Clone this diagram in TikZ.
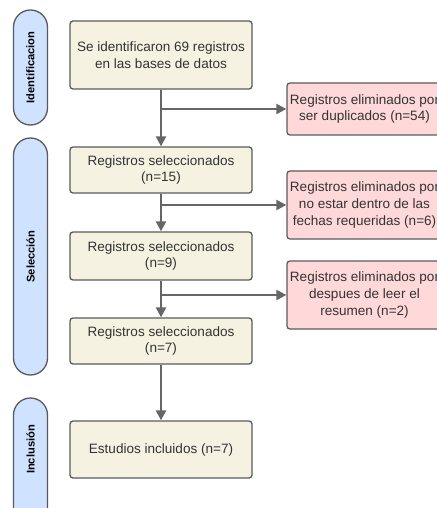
\documentclass[tikz,border=0pt]{standalone}
\usepackage{fontspec}
\setmainfont{Liberation Sans}
\usetikzlibrary{arrows.meta,calc}
\definecolor{boxfill}{HTML}{F5F2E2}
\definecolor{pinkfill}{HTML}{FFD9D9}
\definecolor{bluefill}{HTML}{CFE2FF}
\definecolor{edge}{HTML}{5A5A5A}
\definecolor{txt}{HTML}{333333}
\definecolor{arr}{HTML}{666666}
\begin{document}
\begin{tikzpicture}[x=1bp,y=-1bp,
  stepbox/.style={draw=edge,line width=1.3bp,fill=boxfill,rounded corners=3bp,
    minimum width=182bp,align=center,text=txt,font=\fontsize{13.6}{17}\selectfont,inner sep=0pt},
  pinkbox/.style={draw=edge,line width=1.3bp,fill=pinkfill,rounded corners=3bp,
    minimum width=155bp,align=center,text=txt,font=\fontsize{13.6}{17}\selectfont,inner sep=0pt},
  pill/.style={draw=edge,line width=1.3bp,fill=bluefill,rounded corners=17bp,
    minimum width=34bp,inner sep=0pt},
  pilltext/.style={rotate=90,font=\bfseries\fontsize{11.2}{13}\selectfont,text=black},
  flow/.style={draw=arr,line width=2.3bp,-{Triangle[length=10bp,width=10bp]}}]
\useasboundingbox (0,0) rectangle (437,508);
\clip (0,0) rectangle (437,508);
% phase pills
\node[pill,minimum height=115bp] (p1) at (30.5,67.5) {};
\node[pilltext] (t1) at (p1.center) {Identificacion};
\node[pill,minimum height=237bp] (p2) at (30.5,256.5) {};
\node[pilltext] (t2) at (p2.center) {Selección};
\node[pill,minimum height=140bp] (p3) at (30.5,468) {};
\node[pilltext] (t3) at (30.5,449.5) {Inclusión};
% main boxes
\node[stepbox,minimum height=68bp] (b1) at (161,55) {Se identificaron 69 registros\\en las bases de datos};
\node[stepbox,minimum height=46bp] (b2) at (161,170) {Registros seleccionados\\(n=15)};
\node[stepbox,minimum height=48bp] (b3) at (161,256) {Registros seleccionados\\(n=9)};
\node[stepbox,minimum height=46bp] (b4) at (161,341) {Registros seleccionados\\(n=7)};
\node[stepbox,minimum height=57bp] (b5) at (161,449.5) {Estudios incluidos (n=7)};
% exclusion boxes
\node[pinkbox,minimum height=52bp] (e1) at (364.5,109) {Registros eliminados por\\ser duplicados (n=54)};
\node[pinkbox,minimum height=68bp] (e2) at (364.5,205) {Registros eliminados por\\no estar dentro de las\\fechas requeridas (n=6)};
\node[pinkbox,minimum height=68bp] (e3) at (364.5,295) {Registros eliminados por\\despues de leer el\\resumen (n=2)};
% connectors
\draw[flow] (b1.south) -- (b2.north);
\draw[flow] (b2.south) -- (b3.north);
\draw[flow] (b3.south) -- (b4.north);
\draw[flow] (b4.south) -- (b5.north);
\draw[flow] (b1.south |- e1.west) -- (e1.west);
\draw[flow] (b2.south |- e2.west) -- (e2.west);
\draw[flow] (b3.south |- e3.west) -- (e3.west);
\end{tikzpicture}
\end{document}
